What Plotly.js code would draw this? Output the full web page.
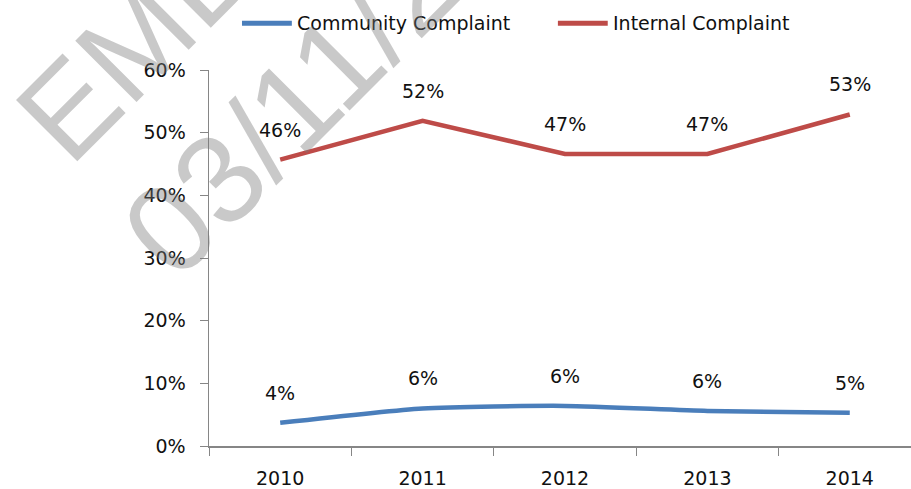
<!DOCTYPE html>
<html>
<head>
<meta charset="utf-8">
<script src="https://cdn.plot.ly/plotly-3.0.1.min.js"></script>
<style>
  html, body { margin: 0; padding: 0; background: #fff; }
  #plotArea { width: 911px; height: 489px; }
</style>
</head>
<body>
<div id="plotArea"></div>
<script>
var years = ["2010", "2011", "2012", "2013", "2014"];
var community = [0.037, 0.060, 0.064, 0.056, 0.053];
var internal = [0.457, 0.519, 0.466, 0.466, 0.529];
var seriesNames = ["Community Complaint", "Internal Complaint"];
var watermark = ["EMBARGOED", "03/11/2015"];

var colors = ["#4A7EBB", "#BE4B48"];
var font = "'DejaVu Sans', sans-serif";

var trace1 = {
    x: years,
    y: community,
    name: seriesNames[0],
    type: "scatter",
    mode: "lines",
    line: {color: colors[0], width: 4.5, shape: "spline", smoothing: 0.6},
    hoverinfo: "skip"
};

var trace2 = {
    x: years,
    y: internal,
    name: seriesNames[1],
    type: "scatter",
    mode: "lines",
    line: {color: colors[1], width: 4.5},
    hoverinfo: "skip"
};

// data labels above each point (x as category index)
var labels = [];
[community, internal].forEach(function(series){
    series.forEach(function(v, i){
        labels.push({
            x: i, y: v, xref: "x", yref: "y",
            text: Math.round(v * 100) + "%",
            showarrow: false, yanchor: "middle", yshift: 30,
            font: {family: font, size: 19, color: "#111"}
        });
    });
});

// legend drawn by hand: longer line keys like the original
var legendX = [[0.047, 0.118], [0.497, 0.568]];
var legendShapes = [], legendText = [];
seriesNames.forEach(function(name, k){
    legendShapes.push({
        type: "line", xref: "paper", yref: "paper",
        x0: legendX[k][0], x1: legendX[k][1], y0: 1.1245, y1: 1.1245,
        line: {color: colors[k], width: 5}
    });
    legendText.push({
        x: legendX[k][1] + 0.004, y: 1.1245, xref: "paper", yref: "paper",
        text: name, showarrow: false, xanchor: "left", yanchor: "middle",
        font: {family: font, size: 19, color: "#111"}
    });
});

// grey stamp across the top left
var stamps = [
    {x: 0.17, y: 1.59, text: watermark[0]},
    {x: 0.222, y: 1.098, text: watermark[1]}
].map(function(s){
    return {
        x: s.x, y: s.y, xref: "paper", yref: "paper",
        text: s.text, showarrow: false, textangle: -45,
        xanchor: "center", yanchor: "middle",
        font: {family: "'Liberation Sans', Arial, sans-serif", size: 126, color: "rgba(120,120,120,0.4)"}
    };
});

var layout = {
    width: 911,
    height: 489,
    margin: {l: 209, r: 0, t: 70, b: 43},
    paper_bgcolor: "#fff",
    plot_bgcolor: "#fff",
    font: {family: font, size: 19, color: "#111"},
    showlegend: false,
    xaxis: {
        type: "category",
        range: [-0.5, 4.43],
        showline: true,
        linecolor: "#868686",
        linewidth: 1.5,
        ticks: "outside",
        tickson: "boundaries",
        ticklen: 8,
        tickcolor: "#868686",
        ticklabelstandoff: 15,
        showgrid: false,
        zeroline: false,
        tickfont: {family: font, size: 19, color: "#111"},
        fixedrange: true
    },
    yaxis: {
        range: [0, 0.6],
        tickvals: [0, 0.1, 0.2, 0.3, 0.4, 0.5, 0.6],
        tickformat: ".0%",
        showline: true,
        linecolor: "#868686",
        linewidth: 1.5,
        ticks: "outside",
        ticklen: 8,
        tickcolor: "#868686",
        ticklabelstandoff: 10,
        showgrid: false,
        zeroline: false,
        tickfont: {family: font, size: 19, color: "#111"},
        fixedrange: true
    },
    shapes: legendShapes,
    annotations: labels.concat(legendText, stamps)
};

Plotly.newPlot("plotArea", [trace1, trace2], layout, {displayModeBar: false, staticPlot: true});
</script>
</body>
</html>
